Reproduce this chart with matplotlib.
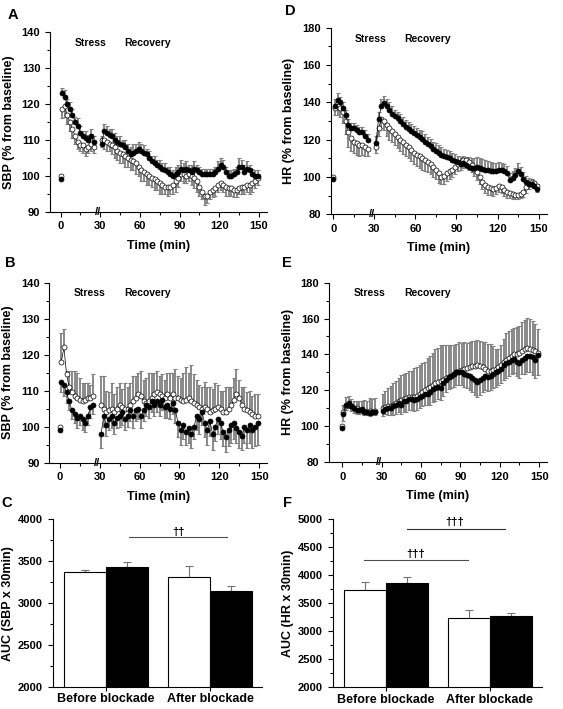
import numpy as np
import matplotlib
matplotlib.use('Agg')
import matplotlib.pyplot as plt
from matplotlib.ticker import MultipleLocator

plt.rcParams['font.family'] = ['Liberation Sans', 'DejaVu Sans']
plt.rcParams['font.weight'] = 'bold'
plt.rcParams['axes.labelweight'] = 'bold'
plt.rcParams['axes.linewidth'] = 0.8

# time grid (min): stress phase, then recovery after the axis break
t_stress = np.arange(1, 27, 2)
t_recovery = np.arange(31, 151, 2)
baseline = [100, 99]  # open, filled at t = 0

# ---- A: SBP, before blockade ----
a_filled_stress = [123, 122, 120, 118.5, 117, 115, 114, 112, 111, 110.5, 110, 111, 109.5]
a_filled_stress_err = [1.5, 2, 1.5, 2, 1.5, 1.5, 2, 2, 1.5, 2, 1.5, 2, 1.5]
a_open_stress = [118.5, 119.5, 117, 115, 113, 111, 109.5, 108.5, 108.5, 107.5, 108, 109, 108]
a_open_stress_err = [2.5, 3, 2.5, 2.5, 2.5, 2, 2, 1.5, 2, 2, 1.5, 2, 1.5]
a_filled_rec = [109, 112.5, 112, 111.5, 111, 110, 109.5, 109, 108.5, 108,
                107, 106, 106.5, 107, 107.5, 107, 106.5, 106, 105, 104,
                103.5, 103, 102.5, 102, 101.5, 101, 100.5, 100, 100.5, 101,
                102, 101.5, 102, 101.5, 101, 102, 101.5, 101, 100.5, 100.5,
                100.5, 100.5, 100.5, 101, 102, 103, 102.5, 101, 100, 100,
                100.5, 101, 102.5, 102.5, 101, 102, 101.5, 100.5, 100, 100]
a_filled_rec_err = [2, 2, 2, 1.5, 2, 2, 1.5, 2, 1.5, 2,
                    2, 2, 2.5, 2, 2, 2, 2, 1.5, 2, 1.5,
                    2, 1.5, 2, 1.5, 2, 1.5, 2, 1.5, 2, 2,
                    2.5, 2, 2, 1.5, 2, 2, 1.5, 1.5, 1.5, 1.5,
                    1.5, 1.5, 1.5, 1.5, 2, 2, 2, 1.5, 1.5, 1.5,
                    1.5, 1.5, 2.5, 2, 2, 2, 1.5, 1.5, 1.5, 1.5]
a_open_rec = [110, 110, 109.5, 109, 108.5, 108, 107, 106.5, 106, 105.5,
              105, 104.5, 104, 103.5, 102.5, 101.5, 101, 100.5, 100, 99.5,
              99, 98.5, 98, 97.5, 97, 97, 97, 97.5, 98.5, 99.5,
              100.5, 100.5, 100, 100.5, 100, 99.5, 98.5, 97, 95.5, 94.5,
              94.5, 95.5, 96, 96.5, 97.5, 98, 97.5, 97, 96.5, 96.5,
              96, 96, 96.5, 97, 97, 97.5, 97.5, 98, 98.5, 99.5]
a_open_rec_err = [2, 2.5, 2.5, 2, 2.5, 3, 2.5, 3, 2.5, 3,
                  2.5, 3, 2.5, 3, 2.5, 3, 2.5, 3, 2.5, 2.5,
                  3, 2.5, 3, 2.5, 2, 2.5, 2, 2.5, 3, 2.5,
                  2, 2.5, 2, 2, 2.5, 3, 3, 2.5, 2, 2.5,
                  2, 2, 2, 2, 2, 2, 2, 2.5, 2, 2,
                  2, 2, 1.5, 2, 2, 2, 2.5, 2.5, 2, 2]

# ---- D: HR, before blockade ----
d_filled_stress = [138, 141, 140, 137, 133, 128, 126, 126, 125, 124, 124, 122, 120]
d_filled_stress_err = [4, 4, 3, 3, 3, 3, 3, 3, 3, 3, 3, 3, 3]
d_open_stress = [137, 138, 137, 135, 130, 124, 121, 119, 118, 117, 117, 116, 115]
d_open_stress_err = [4, 5, 5, 6, 7, 8, 7, 6, 6, 6, 5, 5, 4]
d_filled_rec = [118, 131, 138, 139.5, 138, 136, 134, 132.5, 131.5, 130,
                128.5, 127, 125.5, 124.5, 123.5, 122.5, 121.5, 120.5, 119, 117.5,
                116.5, 115, 114, 113, 112, 111, 110.5, 110, 109, 108.5,
                108, 107, 107.5, 106.5, 105.5, 105, 105, 105.5, 105, 104.5,
                104, 103.5, 103, 103, 103, 103.5, 103.5, 103, 102, 98.5,
                99.5, 101, 103, 101.5, 99, 97.5, 96.5, 96, 95, 93.5]
d_filled_rec_err = [4, 4, 4, 4, 4, 4, 4, 3.5, 3.5, 3.5,
                    3.5, 3.5, 4, 4, 4, 4, 3.5, 4, 4, 4,
                    4, 4, 4, 4, 4, 4, 4, 4, 4, 4,
                    3.5, 3.5, 4, 4, 5, 5, 5, 5, 5, 5,
                    5, 5, 5, 4.5, 4.5, 4.5, 4, 4, 4, 3.5,
                    3.5, 4, 4.5, 4, 3.5, 3, 3, 3, 3, 3]
d_open_rec = [116, 126, 131, 130, 128, 126, 124.5, 123, 121.5, 120,
              118.5, 117, 116, 114.5, 113, 112, 111, 110, 109, 108,
              107, 105.5, 104, 102, 100, 100.5, 102, 103, 104, 105.5,
              107, 108, 109, 109, 108, 106.5, 104.5, 102.5, 100, 97.5,
              95.5, 94.5, 94, 93.5, 94, 95, 94.5, 93, 92, 91.5,
              91, 90.5, 90.5, 91, 92, 94.5, 96.5, 97.5, 97, 95]
d_open_rec_err = [3, 4, 5, 5, 6, 6, 6, 6, 6, 6,
                  6, 6, 6, 6, 6, 6, 6, 6, 6, 5.5,
                  5.5, 5.5, 5, 5, 4, 4, 4, 4, 4, 4,
                  4, 4, 4, 4, 4, 4, 4, 4, 4, 4,
                  4, 4, 3.5, 3.5, 3, 3, 3, 3, 3, 3,
                  3, 2.5, 2.5, 2.5, 2.5, 3, 3, 3, 3, 3]

# ---- B: SBP, after blockade ----
b_filled_stress = [112.5, 111.5, 109.5, 107, 104.5, 103.5, 102.5, 103, 102, 101, 103, 105.5, 106]
b_filled_stress_err = [3, 3, 3, 2.5, 2.5, 2.5, 3, 2.5, 3, 2.5, 2.5, 3, 2.5]
b_open_stress = [118, 122, 114.5, 111, 109.5, 108.5, 108, 107.5, 107, 107.5, 108, 108, 108.5]
b_open_stress_err = [8, 5, 1, 4.5, 6, 7, 7, 6, 5, 4.5, 4, 3.5, 6]
b_filled_rec = [98, 103, 100.5, 102, 103, 101, 102.5, 103, 104, 102,
                103, 104.5, 103, 104.5, 105, 103, 104.5, 106, 105.5, 107,
                106, 107, 106, 107.5, 105.5, 106, 105, 106.5, 104.5, 101,
                99, 100.5, 98.5, 99.5, 98, 100, 103, 102, 104, 101,
                99, 101.5, 98, 100, 102, 101, 98.5, 97, 99, 100.5,
                101, 99.5, 98.5, 97.5, 100, 99, 100.5, 99, 100, 101]
b_filled_rec_err = [4, 3, 3, 3, 3.5, 3, 3, 3, 3.5, 3,
                    3, 3, 3.5, 3, 3, 3.5, 3, 3, 3, 3,
                    3, 3, 3, 3, 3, 3.5, 3, 3, 3.5, 4,
                    4, 4, 3.5, 4, 4, 3.5, 4, 4, 3.5, 4,
                    4, 4, 4.5, 4, 4, 4.5, 4, 4, 4.5, 5,
                    4.5, 4, 4.5, 4, 4.5, 5, 5, 5, 5.5, 6]
b_open_rec = [106, 105, 104, 104.5, 105, 104, 105, 106, 105.5, 105,
              105, 106, 107, 108, 109, 108.5, 107, 106.5, 107, 108,
              109, 109.5, 109, 108.5, 108, 109, 108, 109, 108, 108,
              107.5, 107, 107.5, 108, 107, 106.5, 106, 105.5, 105, 105.5,
              105, 104, 104.5, 105, 105.5, 105, 104, 104, 105, 106,
              107.5, 109, 108, 106, 105, 104.5, 104, 103.5, 103, 103]
b_open_rec_err = [8, 9, 6, 5, 7, 5, 6, 6, 5, 7,
                  6, 6, 7, 6, 6, 7, 6, 7, 8, 7,
                  6, 6, 5, 6, 5, 6, 7, 6, 8, 6,
                  6, 8, 9, 7, 10, 8, 7, 6, 6, 7,
                  6, 7, 6, 7, 6, 5, 6, 7, 6, 5,
                  6, 7, 5, 5, 6, 5, 6, 5, 6, 6]

# ---- E: HR, after blockade ----
e_filled_stress = [107, 112, 113, 111, 110, 109, 109, 109.5, 108, 108, 107.5, 108, 108]
e_filled_stress_err = [4, 3, 3, 2.5, 2.5, 2, 2, 2, 2, 2, 2, 2, 2]
e_open_stress = [108, 111, 112, 111, 110, 110, 109, 109, 108.5, 108, 108.5, 108, 108.5]
e_open_stress_err = [4, 5, 5, 4, 4, 4, 5, 5, 6, 6, 7, 7, 7]
e_filled_rec = [108.5, 109.5, 110, 110, 111, 112, 113, 112, 114, 114,
                115, 115, 114.5, 115, 116, 117, 118, 118, 119, 120.5,
                121, 122, 121.5, 124, 126, 127.5, 128, 129, 130, 130,
                130, 129, 128.5, 128, 127, 125.5, 124.5, 125.5, 127, 128,
                127.5, 128, 129, 130, 131, 132, 134, 135, 136, 137,
                137.5, 136, 135, 137, 138, 139, 139, 138.5, 137, 139.5]
e_filled_rec_err = [3, 3, 4, 4, 5, 5, 5, 5, 6, 6,
                    6, 6, 6, 6, 6, 6, 6, 6, 7, 7,
                    7, 7, 7, 7, 7, 7, 7, 7, 7, 7,
                    7, 7, 7, 8, 8, 8, 8, 8, 8, 8,
                    8, 8, 8, 8, 8, 8, 8, 8, 8, 8,
                    8, 8, 8, 8, 9, 9, 9, 10, 10, 11]
e_open_rec = [110, 110.5, 111, 111.5, 112, 113, 114, 114.5, 115, 115.5,
              116, 116, 116.5, 117, 118, 119, 120, 121, 122, 123,
              124, 124.5, 125, 126, 127, 127.5, 128, 129, 130, 131,
              131.5, 132, 132.5, 133, 133.5, 133.5, 134, 133.5, 133, 132,
              131, 131, 131.5, 132, 133, 134, 135.5, 137, 138, 139,
              140, 140.5, 141, 142, 143, 143.5, 143, 142.5, 142, 141]
e_open_rec_err = [8, 9, 10, 11, 12, 12, 13, 14, 14, 14,
                  15, 15, 16, 16, 16, 16, 16, 17, 17, 18,
                  19, 19, 20, 19, 18, 18, 17, 16, 16, 16,
                  15, 15, 14, 14, 14, 14, 14, 14, 14, 15,
                  15, 15, 13, 11, 10, 11, 13, 15, 15, 15,
                  15, 15, 15, 16, 16, 17, 17, 16, 15, 13]

# ---- C / F: AUC bars ----
groups = ['Before blockade', 'After blockade']
c_white = [3370, 3310]
c_white_err = [25, 135]
c_black = [3435, 3150]
c_black_err = [55, 60]
f_white = [3740, 3235]
f_white_err = [140, 150]
f_black = [3860, 3265]
f_black_err = [115, 70]


def style_axes(ax):
    for s in ['top', 'right']:
        ax.spines[s].set_visible(False)
    ax.tick_params(which='major', direction='out', length=3.5, width=0.8, labelsize=8)
    ax.tick_params(which='minor', direction='out', length=2, width=0.8)
    for lab in ax.get_xticklabels() + ax.get_yticklabels():
        lab.set_fontweight('bold')


def draw_series(ax, t, y, err, up, filled, z):
    e = np.asarray(err, dtype=float)
    zeros = np.zeros_like(e)
    yerr = [zeros, e] if up else [e, zeros]
    ax.errorbar(t, y, yerr=yerr, fmt='none', ecolor='0.5', elinewidth=1.3,
                capsize=1.5, capthick=0.8, zorder=1)
    ax.plot(t, y, '-', color='k', lw=0.5, marker='o', ms=3.6,
            mfc='k' if filled else 'white', mec='k', mew=0.5, zorder=z)


def time_panel(ax, f_s, f_s_err, f_r, f_r_err, o_s, o_s_err, o_r, o_r_err,
               open_up, ylim, ystep, yminor, ylabel, xlim):
    for t, y, e in [(t_stress, o_s, o_s_err), (t_recovery, o_r, o_r_err)]:
        draw_series(ax, t, y, e, open_up, False, 2)
    for t, y, e in [(t_stress, f_s, f_s_err), (t_recovery, f_r, f_r_err)]:
        draw_series(ax, t, y, e, not open_up, True, 3)
    ax.plot([0], [baseline[0]], 'o', ms=3.6, mfc='white', mec='k', mew=0.5, zorder=2)
    ax.plot([0], [baseline[1]], 'o', ms=3.6, mfc='k', mec='k', mew=0.5, zorder=3)
    ax.set_xlim(*xlim)
    ax.set_ylim(*ylim)
    ax.set_xticks([0, 30, 60, 90, 120, 150])
    ax.xaxis.set_minor_locator(MultipleLocator(15))
    ax.yaxis.set_major_locator(MultipleLocator(ystep))
    ax.yaxis.set_minor_locator(MultipleLocator(yminor))
    ax.set_xlabel('Time (min)', fontsize=9, labelpad=6)
    ax.set_ylabel(ylabel, fontsize=9, labelpad=5)
    ax.text(0.185, 0.94, 'Stress', transform=ax.transAxes, ha='center', va='center', fontsize=7.5)
    ax.text(0.45, 0.94, 'Recovery', transform=ax.transAxes, ha='center', va='center', fontsize=7.5)
    ax.text(28, ylim[0], '//', ha='center', va='center', fontsize=8, clip_on=False)
    style_axes(ax)


def bar_panel(ax, white, white_err, black, black_err, ylim, ylabel):
    x = np.arange(len(groups))
    w = 0.405
    ax.bar(x - w / 2, white, w, color='white', edgecolor='k', linewidth=0.8, zorder=2)
    ax.bar(x + w / 2, black, w, color='k', edgecolor='k', linewidth=0.8, zorder=2)
    ax.errorbar(x - w / 2, white, yerr=[np.zeros(2), white_err], fmt='none',
                ecolor='0.45', elinewidth=0.8, capsize=3, capthick=0.8, zorder=1)
    ax.errorbar(x + w / 2, black, yerr=[np.zeros(2), black_err], fmt='none',
                ecolor='0.45', elinewidth=0.8, capsize=3, capthick=0.8, zorder=1)
    ax.set_ylim(*ylim)
    ax.set_xlim(-0.51, 1.5)
    ax.set_xticks(x)
    ax.set_xticklabels(groups)
    ax.yaxis.set_major_locator(MultipleLocator(500))
    ax.yaxis.set_minor_locator(MultipleLocator(250))
    ax.set_ylabel(ylabel, fontsize=9, labelpad=3)
    style_axes(ax)
    ax.tick_params(axis='x', which='major', length=3, pad=1.5)
    for lab in ax.get_xticklabels():
        lab.set_fontsize(9)


fig = plt.figure(figsize=(5.63, 7.09), dpi=100)

ax_a = fig.add_axes([0.0888, 0.7014, 0.3854, 0.2530])
ax_d = fig.add_axes([0.5874, 0.6977, 0.3837, 0.2632])
ax_b = fig.add_axes([0.0876, 0.3474, 0.3867, 0.2539])
ax_e = fig.add_axes([0.5844, 0.3484, 0.3872, 0.2529])
ax_c = fig.add_axes([0.0936, 0.0310, 0.3718, 0.2366])
ax_f = fig.add_axes([0.5909, 0.0305, 0.3718, 0.2371])

time_panel(ax_a, a_filled_stress, a_filled_stress_err, a_filled_rec, a_filled_rec_err,
           a_open_stress, a_open_stress_err, a_open_rec, a_open_rec_err,
           False, (90, 140), 10, 5, 'SBP (% from baseline)', (-8, 156))
time_panel(ax_d, d_filled_stress, d_filled_stress_err, d_filled_rec, d_filled_rec_err,
           d_open_stress, d_open_stress_err, d_open_rec, d_open_rec_err,
           False, (80, 180), 20, 10, 'HR (% from baseline)', (-2, 156))
time_panel(ax_b, b_filled_stress, b_filled_stress_err, b_filled_rec, b_filled_rec_err,
           b_open_stress, b_open_stress_err, b_open_rec, b_open_rec_err,
           True, (90, 140), 10, 5, 'SBP (% from baseline)', (-8, 156))
time_panel(ax_e, e_filled_stress, e_filled_stress_err, e_filled_rec, e_filled_rec_err,
           e_open_stress, e_open_stress_err, e_open_rec, e_open_rec_err,
           True, (80, 180), 20, 10, 'HR (% from baseline)', (-10, 156))

bar_panel(ax_c, c_white, c_white_err, c_black, c_black_err, (2000, 4000), 'AUC (SBP x 30min)')
bar_panel(ax_f, f_white, f_white_err, f_black, f_black_err, (2000, 5000), 'AUC (HR x 30min)')

# significance brackets
ax_c.plot([0.22, 1.16], [3790, 3790], color='0.3', lw=0.8)
ax_c.text(0.70, 3850, '\u2020\u2020', ha='center', va='center', fontsize=8)
ax_f.plot([0.2, 1.14], [4835, 4835], color='0.2', lw=0.8)
ax_f.text(0.66, 4950, '\u2020\u2020\u2020', ha='center', va='center', fontsize=8)
ax_f.plot([-0.21, 0.79], [4265, 4265], color='0.3', lw=0.8)
ax_f.text(0.29, 4385, '\u2020\u2020\u2020', ha='center', va='center', fontsize=8)

# panel letters
for x, y, s in [(13, 15, 'A'), (290, 11, 'D'), (10, 263, 'B'), (287, 263, 'E'),
                (7, 503, 'C'), (287, 503, 'F')]:
    fig.text(x / 563, 1 - y / 709, s, ha='center', va='center', fontsize=10.5, fontweight='bold')

fig.savefig('out.png', dpi=100)
